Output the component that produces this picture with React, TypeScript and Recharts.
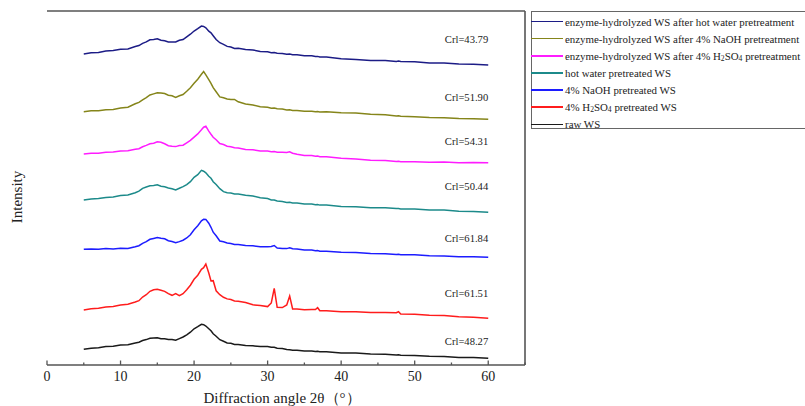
import React from 'react';
import { LineChart, Line, XAxis, YAxis, ReferenceLine, ReferenceDot } from 'recharts';

// 2θ sampling grid (degrees)
const angles = [5, 6, 7, 8, 9, 10, 11, 12, 12.5, 13, 13.5, 14, 14.5, 15, 15.5, 16, 16.5, 17, 17.5, 18, 18.5, 19, 19.5, 20, 20.5, 21, 21.3, 21.6, 22, 22.3, 22.6, 23, 23.5, 24, 24.5, 25, 25.5, 26, 27, 28, 29, 30, 30.5, 30.9, 31.3, 32, 32.6, 33, 33.4, 34, 35, 36, 36.5, 36.8, 37.1, 38, 40, 42, 44, 46, 47.5, 47.8, 48.1, 50, 52, 54, 56, 58, 60];

// stacked intensities (arbitrary units, offset per pattern)
const enzHotWater = [311, 312.2, 312.6, 314, 314.4, 315.7, 316.1, 318.5, 319.4, 321.7, 323.1, 325.2, 325.6, 326.2, 324.8, 324.2, 323.1, 322.9, 323, 324.7, 325.5, 328.2, 330.8, 334, 336.3, 338.9, 338.6, 337.2, 333.8, 332.2, 329.3, 325.5, 322.3, 320.7, 318.6, 318, 316.6, 316.7, 315.6, 315, 313.6, 313.2, 312.3, 312.4, 311.8, 311.5, 310.8, 310.9, 310.3, 310.2, 309.3, 309.2, 308.4, 308.6, 308, 307.9, 306.3, 305.5, 304.5, 304.4, 303.6, 303.9, 303.4, 303.2, 302.1, 301.9, 301, 300.8, 300];
const enzNaOH = [253.3, 254.2, 254.3, 255.2, 255.5, 257, 257.8, 261.2, 262.6, 265.2, 267.3, 270, 271.1, 272.2, 272, 271.4, 269.8, 269.2, 267.6, 269.2, 270.5, 273.7, 277.3, 281.7, 285.8, 290.7, 293.5, 290.2, 285.3, 281.7, 277.3, 273.2, 268.1, 267.2, 266.1, 265.4, 265.6, 263.2, 261, 260, 258.3, 257.7, 256.8, 256.9, 256.2, 256, 255, 255.2, 254.5, 254.5, 253.8, 253.8, 253.3, 253.5, 253, 253.2, 252.3, 252.1, 250.8, 250.2, 249.1, 249.3, 248.8, 248.2, 247.4, 247.3, 246.4, 246.3, 245.7];
const enzH2SO4 = [211, 211.7, 211.8, 212.8, 213.1, 214, 214.3, 215.7, 216.3, 218.2, 219.6, 221.2, 221.8, 223.2, 222.8, 221.2, 219.3, 218.7, 218.4, 219.4, 219.8, 222.2, 224.6, 227.9, 231.1, 235.2, 237.8, 238.7, 233.8, 230.7, 227.8, 225.2, 221.4, 220.5, 218.8, 218.2, 217.3, 217, 215.6, 215.2, 214, 213.9, 213.3, 213.5, 212.8, 212.8, 212.6, 213.2, 211.8, 210.7, 209.6, 209.4, 208.7, 208.9, 208.3, 208.2, 206.8, 206.1, 204.8, 204.5, 203.6, 203.8, 203.3, 203.3, 202.7, 202.9, 202.3, 202.6, 202.3];
const hotWaterWS = [165, 166, 166.4, 167.6, 168.1, 169.4, 170, 172.2, 173.8, 176.7, 178, 179.2, 179.6, 180.2, 178.8, 178.2, 177, 176.2, 175, 176.7, 178.3, 180.4, 183.3, 187.7, 190.3, 194.7, 193.8, 192.2, 188.8, 186.7, 183.3, 180.5, 176.3, 173.4, 172.3, 172, 171, 171, 169.8, 169, 167.3, 166.4, 165.1, 165, 164, 163.5, 162.6, 162.7, 162.1, 162.1, 161.1, 160.9, 160.3, 160.5, 159.9, 159.9, 158.6, 158.2, 157.3, 157.2, 156.4, 156.6, 156.1, 156.1, 155.1, 154.9, 153.8, 153.5, 152.7];
const naohWS = [115.7, 116.1, 115.8, 116.4, 116.1, 116.7, 116.4, 118.2, 119.3, 121.7, 123.3, 125.7, 126.6, 127.5, 126.8, 126.2, 124.3, 123.5, 122.2, 123.4, 124.8, 127, 130.3, 135.2, 139.3, 144.2, 145.7, 145.6, 141.8, 137.7, 132.8, 129.2, 124, 123.2, 122, 121.5, 120.6, 120.4, 119.4, 119.2, 118.2, 118.2, 118.6, 119.5, 117, 116.6, 116.4, 117.3, 116.2, 116, 115, 114.9, 114.2, 114.4, 113.8, 113.8, 112.8, 112.5, 111.5, 111.2, 110.4, 110.7, 110.2, 110.2, 109.2, 109.1, 108.2, 108.2, 107.7];
const h2so4WS = [55, 56.2, 56.8, 58, 58.5, 59.9, 60.8, 63, 64.3, 68, 70.3, 73.7, 75.3, 75.8, 74.8, 73.6, 71.3, 69.7, 71.5, 69.4, 71.3, 75.2, 79.8, 85.7, 89.8, 95.7, 97.3, 101, 92, 84, 84.3, 74.2, 70.3, 67.7, 66.1, 65.4, 64.1, 63.7, 62.5, 60.2, 59.4, 58.4, 62, 76.7, 57.7, 57.4, 60, 69, 56, 55.9, 55.2, 55.4, 55.5, 57.3, 54.3, 54.2, 53.3, 53.2, 52.4, 52.4, 52.3, 53.3, 51, 50.7, 49.8, 49.4, 48.3, 47.7, 46.7];
const rawWS = [15.7, 16.7, 17.2, 18.4, 18.8, 20, 20.3, 22, 22.8, 24.5, 25.4, 26.7, 27, 27.2, 26.2, 26.2, 25.4, 25.6, 24.8, 26.4, 28, 30.2, 32.8, 36.2, 38.3, 40.7, 40.3, 39, 36.3, 34.2, 31.3, 28.8, 25.3, 23.7, 22.1, 21.7, 20.6, 20.5, 19.4, 19.2, 18.4, 18.4, 17.7, 17.7, 16.8, 16.5, 15.4, 15.2, 14.7, 14.8, 14, 14.1, 13.5, 13.7, 13.2, 13.2, 12.1, 11.9, 10.9, 10.7, 9.9, 10.2, 9.7, 9.6, 8.8, 8.6, 7.6, 7.4, 6.7];

// legend order (top to bottom)
const seriesKeys = ['enzHotWater', 'enzNaOH', 'enzH2SO4', 'hotWaterWS', 'naohWS', 'h2so4WS', 'rawWS'];
const seriesValues = [enzHotWater, enzNaOH, enzH2SO4, hotWaterWS, naohWS, h2so4WS, rawWS];
const seriesNames = [
  'enzyme-hydrolyzed WS after hot water pretreatment',
  'enzyme-hydrolyzed WS after 4% NaOH pretreatment',
  'enzyme-hydrolyzed WS after 4% H2SO4 pretreatment',
  'hot water pretreated WS',
  '4% NaOH pretreated WS',
  '4% H2SO4 pretreated WS',
  'raw WS',
];
const seriesColors = ['#1c1c86', '#85851a', '#ff1cff', '#1c8a8a', '#1c1cff', '#ff1c1c', '#1a1a1a'];

// crystallinity index annotations
const crlLabels = ['Crl=43.79', 'Crl=51.90', 'Crl=54.31', 'Crl=50.44', 'Crl=61.84', 'Crl=61.51', 'Crl=48.27'];
const crlLevels = [326, 267.7, 224, 179.5, 126.7, 71.7, 24.3];
const crlAngle = 60;

const xTicks = [0, 5, 10, 15, 20, 25, 30, 35, 40, 45, 50, 55, 60, 65];
const X_MAX = 65;
const Y_MAX = 354;

const data = angles.map((a, i) => {
  const row: Record<string, number> = { angle: a };
  seriesKeys.forEach((k, j) => { row[k] = seriesValues[j][i]; });
  return row;
});

const SERIF = '"Liberation Serif", "Times New Roman", serif';
const FRAME = '#555555';

function renderName(name: string) {
  const parts = name.split('H2SO4');
  if (parts.length === 1) return name;
  return (
    <>
      {parts[0]}H<sub style={{ fontSize: '0.7em', verticalAlign: '-0.15em' }}>2</sub>SO<sub style={{ fontSize: '0.7em', verticalAlign: '-0.15em' }}>4</sub>{parts[1]}
    </>
  );
}

const XTick = (props: any) => {
  const { x, y, payload } = props;
  const v = payload.value as number;
  const major = v % 10 === 0;
  return (
    <g>
      <line x1={x} y1={y} x2={x} y2={y - (major ? 4.5 : 2.5)} stroke={FRAME} strokeWidth={1.3} />
      {major && v <= 60 ? (
        <text x={x} y={y + 16} textAnchor="middle" fontFamily={SERIF} fontSize={14} fill="#222">{v}</text>
      ) : null}
    </g>
  );
};

const CrlLabel = (props: any) => {
  const { viewBox, text } = props;
  const cx = viewBox.x + viewBox.width / 2;
  const cy = viewBox.y + viewBox.height / 2;
  return (
    <text x={cx} y={cy} dy={4} textAnchor="end" fontFamily={SERIF} fontSize={10.6} fill="#222">{text}</text>
  );
};

const XLabel = (props: any) => {
  const { viewBox } = props;
  return (
    <text x={viewBox.x + viewBox.width / 2 - 4} y={403} textAnchor="middle" fontFamily={SERIF} fontSize={15} fill="#222">
      Diffraction angle 2θ（°）
    </text>
  );
};

export default function App() {
  return (
    <div style={{ position: 'absolute', left: 0, top: 0, width: 805, height: 406, overflow: 'hidden', background: '#fff' }}>
      <LineChart width={805} height={406} data={data} margin={{ top: 11, right: 280, left: 47, bottom: 0 }}>
        <XAxis
          dataKey="angle"
          type="number"
          domain={[0, X_MAX]}
          ticks={xTicks}
          interval={0}
          allowDataOverflow
          height={41}
          tickLine={false}
          tickSize={0}
          tickMargin={0}
          tick={<XTick />}
          axisLine={{ stroke: FRAME, strokeWidth: 1.6 }}
          label={<XLabel />}
        />
        <YAxis
          type="number"
          domain={[0, Y_MAX]}
          allowDataOverflow
          width={0}
          tick={false}
          tickLine={false}
          axisLine={{ stroke: FRAME, strokeWidth: 1.6 }}
        />
        <ReferenceLine x={X_MAX} stroke={FRAME} strokeWidth={1.6} />
        <ReferenceLine y={Y_MAX} stroke={FRAME} strokeWidth={1.6} />
        {seriesKeys.map((k, i) => (
          <Line
            key={k}
            dataKey={k}
            type="linear"
            stroke={seriesColors[i]}
            strokeWidth={1.5}
            dot={false}
            activeDot={false}
            isAnimationActive={false}
          />
        ))}
        {crlLabels.map((t, i) => (
          <ReferenceDot
            key={t}
            x={crlAngle}
            y={crlLevels[i]}
            r={1}
            fill="none"
            stroke="none"
            label={<CrlLabel text={t} />}
          />
        ))}
      </LineChart>
      <svg width={40} height={406} style={{ position: 'absolute', left: 0, top: 0 }}>
        <text x={22} y={197} transform="rotate(-90 22 197)" textAnchor="middle" fontFamily={SERIF} fontSize={15} fill="#222">Intensity</text>
      </svg>
      <div
        style={{
          position: 'absolute', left: 531, top: 11, width: 290, height: 118,
          border: '1px solid #666', boxSizing: 'border-box', background: '#fff',
          fontFamily: SERIF, fontSize: 10.9, color: '#222',
        }}
      >
        {seriesNames.map((n, i) => (
          <div key={n} style={{ position: 'absolute', left: -1, top: 9.7 + i * 17.1 - 8, height: 16, width: 300 }}>
            <div style={{ position: 'absolute', left: 0, top: 7.3, width: 32, height: 1.4, background: seriesColors[i] }} />
            <div style={{ position: 'absolute', left: 34, top: 0, lineHeight: '16px', whiteSpace: 'nowrap' }}>{renderName(n)}</div>
          </div>
        ))}
      </div>
    </div>
  );
}
